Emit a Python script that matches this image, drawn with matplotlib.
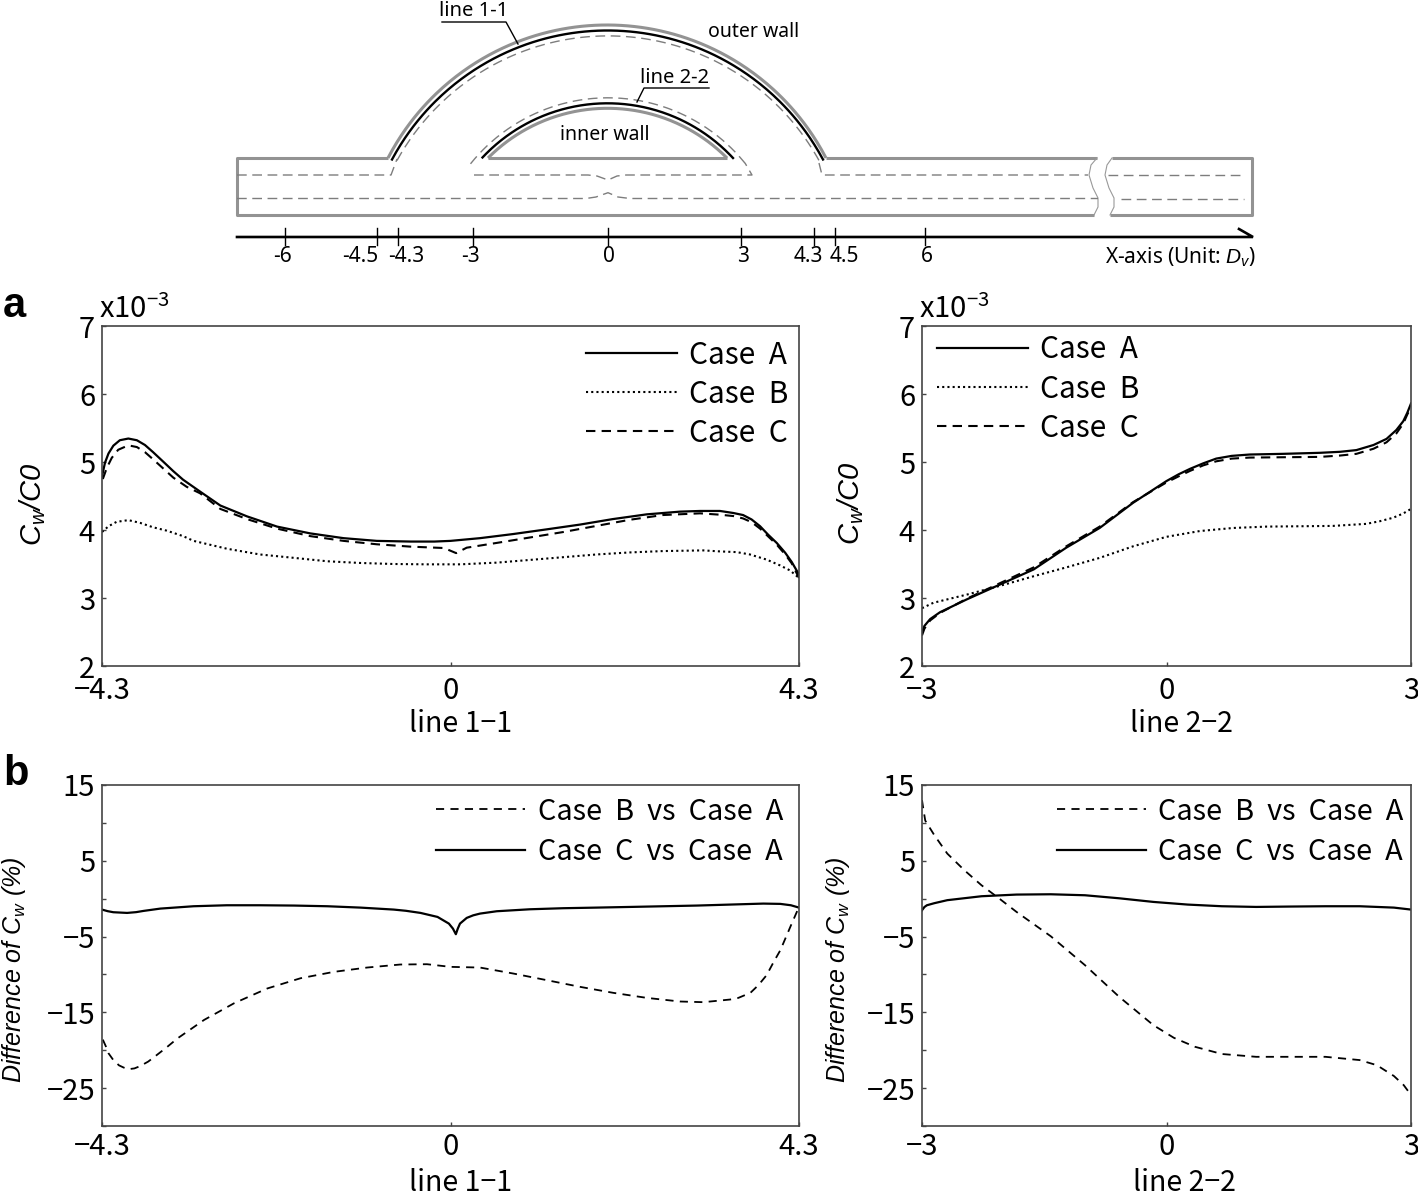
import numpy as np
import matplotlib
matplotlib.use('Agg')
import matplotlib.pyplot as plt

plt.rcParams['font.family'] = ['Noto Sans CJK JP', 'DejaVu Sans']
plt.rcParams['mathtext.fontset'] = 'custom'
plt.rcParams['mathtext.rm'] = 'Noto Sans CJK JP'
plt.rcParams['mathtext.it'] = 'Liberation Sans:italic'
plt.rcParams['mathtext.sf'] = 'Liberation Sans:italic'
plt.rcParams['axes.unicode_minus'] = True

W, H = 1418, 1197

# panel a, line 1-1
a1_xa = [-4.3, -4.263, -4.22, -4.16, -4.08, -3.975, -3.87, -3.77, -3.67, -3.54, -3.42, -3.3, -3.09, -2.84, -2.51,
         -2.14, -1.73, -1.32, -0.91, -0.49, -0.2, 0, 0.364, 0.77, 1.19, 1.6, 2.0, 2.42, 2.83, 3.08, 3.325, 3.49,
         3.61, 3.715, 3.82, 3.92, 4.025, 4.13, 4.21, 4.3]
a1_ya = [4.79, 4.99, 5.125, 5.24, 5.32, 5.345, 5.32, 5.25, 5.145, 5.0, 4.865, 4.74, 4.565, 4.36, 4.2,
         4.05, 3.95, 3.88, 3.84, 3.83, 3.83, 3.84, 3.88, 3.94, 4.01, 4.08, 4.16, 4.23, 4.27, 4.28, 4.28, 4.25,
         4.22, 4.155, 4.055, 3.93, 3.81, 3.665, 3.53, 3.345]
a1_xb = [-4.3, -4.22, -4.12, -3.975, -3.83, -3.67, -3.5, -3.3, -3.17, -2.76, -2.35, -1.93, -1.52, -1.11, -0.7, -0.29,
         0.12, 0.57, 0.98, 1.39, 1.8, 2.21, 2.62, 3.12, 3.325, 3.53, 3.695, 3.9, 4.065, 4.19, 4.3]
a1_yb = [3.97, 4.055, 4.12, 4.145, 4.105, 4.04, 3.99, 3.91, 3.84, 3.725, 3.64, 3.59, 3.54, 3.515, 3.5, 3.495,
         3.495, 3.52, 3.56, 3.6, 3.64, 3.67, 3.69, 3.7, 3.685, 3.675, 3.64, 3.565, 3.48, 3.405, 3.295]
a1_xc = [-4.29, -4.24, -4.18, -4.1, -3.975, -3.87, -3.77, -3.67, -3.54, -3.42, -3.255, -3.09, -2.84, -2.51, -2.14,
         -1.73, -1.32, -0.91, -0.49, -0.08, 0.07, 0.2, 0.57, 0.98, 1.39, 1.8, 2.21, 2.62, 3.08, 3.325, 3.49, 3.61,
         3.715, 3.82, 3.92, 4.025, 4.13, 4.21, 4.3]
a1_yc = [4.75, 4.915, 5.06, 5.18, 5.245, 5.22, 5.145, 5.04, 4.9, 4.77, 4.635, 4.54, 4.31, 4.16, 4.02,
         3.91, 3.84, 3.79, 3.755, 3.735, 3.66, 3.74, 3.81, 3.89, 3.97, 4.06, 4.15, 4.22, 4.245, 4.225, 4.205, 4.17,
         4.115, 4.02, 3.905, 3.785, 3.64, 3.51, 3.295]

# panel a, line 2-2
a2_x = [-3, -2.97, -2.9, -2.78, -2.45, -2.04, -1.63, -1.23, -0.82, -0.41, 0, 0.15, 0.29, 0.45, 0.61, 0.8, 1.02,
        1.43, 1.88, 2.13, 2.33, 2.54, 2.7, 2.82, 2.905, 2.955, 3]
a2_ya = [2.49, 2.59, 2.69, 2.79, 2.98, 3.2, 3.42, 3.74, 4.03, 4.4, 4.72, 4.82, 4.9, 4.98, 5.05, 5.09, 5.11,
         5.12, 5.135, 5.15, 5.175, 5.25, 5.34, 5.47, 5.6, 5.725, 5.86]
a2_yc = [2.45, 2.55, 2.67, 2.78, 2.99, 3.22, 3.45, 3.76, 4.05, 4.41, 4.7, 4.79, 4.87, 4.95, 5.01, 5.05, 5.065,
         5.07, 5.075, 5.095, 5.12, 5.195, 5.29, 5.42, 5.565, 5.7, 5.8]
a2_xb = [-3, -2.86, -2.45, -2.04, -1.63, -1.23, -0.82, -0.41, 0, 0.41, 0.82, 1.23, 1.63, 2.04, 2.45, 2.62, 2.78,
         2.9, 3]
a2_yb = [2.85, 2.93, 3.05, 3.18, 3.32, 3.45, 3.59, 3.76, 3.9, 3.985, 4.03, 4.05, 4.055, 4.06, 4.09, 4.13, 4.18,
         4.24, 4.31]

# panel b, line 1-1
b1_xb = [-4.29, -4.25, -4.22, -4.16, -4.09, -4.03, -3.97, -3.9, -3.83, -3.73, -3.62, -3.5, -3.37, -3.04, -2.67, -2.26,
         -1.85, -1.44, -1.03, -0.62, -0.29, 0, 0.364, 0.775, 1.19, 1.6, 2.01, 2.42, 2.83, 3.12, 3.45, 3.55, 3.7, 3.8,
         3.9, 3.99, 4.07, 4.14, 4.21, 4.3]
b1_yb = [-18.6, -19.55, -20.4, -21.3, -22.0, -22.3, -22.5, -22.4, -22.1, -21.5, -20.6, -19.6, -18.45, -16.0, -13.8,
         -11.85, -10.5, -9.66, -9.09, -8.69, -8.65, -9.0, -9.09, -9.88, -10.76, -11.64, -12.43, -13.09, -13.57, -13.66,
         -13.31, -13.1, -12.43, -11.4, -10.1, -8.3, -6.8, -5.05, -3.29, -1.09]
b1_xc = [-4.3, -4.23, -4.16, -3.99, -3.88, -3.79, -3.58, -3.17, -2.76, -2.35, -1.93, -1.52, -1.11, -0.7, -0.55, -0.37,
         -0.16, -0.02, 0.03, 0.066, 0.09, 0.117, 0.2, 0.28, 0.364, 0.57, 0.98, 1.39, 1.8, 2.22, 2.63, 3.04, 3.45,
         3.86, 4.07, 4.2, 4.3]
b1_yc = [-1.44, -1.65, -1.79, -1.88, -1.78, -1.62, -1.31, -1.0, -0.87, -0.87, -0.91, -1.0, -1.18, -1.44, -1.6, -1.88,
         -2.41, -3.29, -3.95, -4.69, -3.95, -3.29, -2.54, -2.2, -1.97, -1.66, -1.4, -1.26, -1.18, -1.09, -1.0, -0.91,
         -0.78, -0.65, -0.69, -0.87, -1.18]

# panel b, line 2-2
b2_xb = [-3, -2.98, -2.96, -2.85, -2.69, -2.48, -2.27, -2.05, -1.84, -1.42, -1.0, -0.58, -0.16, 0.09, 0.35, 0.68, 1.1,
         1.52, 1.95, 2.37, 2.58, 2.79, 2.91, 3]
b2_yb = [13, 11.6, 10.3, 8.4, 5.95, 3.75, 1.77, 0, -1.75, -4.96, -8.78, -12.96, -16.7, -18.36, -19.55, -20.5, -20.87,
         -20.87, -20.87, -21.3, -21.97, -23.4, -24.6, -25.9]
b2_xc = [-3, -2.97, -2.94, -2.85, -2.69, -2.27, -1.84, -1.42, -1.0, -0.58, -0.16, 0.26, 0.68, 1.1, 1.52, 1.95, 2.37,
         2.79, 3]
b2_yc = [-1.53, -1.1, -0.87, -0.6, -0.2, 0.32, 0.54, 0.58, 0.45, 0.05, -0.43, -0.78, -1.0, -1.09, -1.04, -1.0, -1.0,
         -1.18, -1.44]

# schematic
axis_ticks = [-6, -4.5, -4.3, -3, 0, 3, 4.3, 4.5, 6]
axis_tick_px = [285, 377, 398, 473, 608, 741, 814, 835, 925]
axis_label_px = [283, 360, 406, 470, 609, 743, 808, 844, 927]

GRAY = '#939393'
DGRAY = '#7d7d7d'
FRAME = '#444444'
TFONT = 'Noto Sans'


def box(l, t, r, b):
    return [l / W, 1 - b / H, (r - l) / W, (b - t) / H]


def arc(ax, cx, cy, R, x0, x1, **kw):
    xs = np.linspace(x0, x1, 200)
    ys = cy - np.sqrt(R ** 2 - (xs - cx) ** 2)
    ax.plot(xs, ys, **kw)


def setup(ax, xt, xl, yt, ylim, xlabel, label_x, label_y, xpad, labelled=None):
    ax.set_xlim(xt[0], xt[-1])
    ax.set_ylim(*ylim)
    ax.set_xticks(xt)
    ax.set_xticklabels(xl)
    ax.set_yticks(yt)
    if labelled is not None:
        ax.set_yticklabels([str(v).replace('-', '\u2212') if v in labelled else '' for v in yt])
    ax.tick_params(direction='in', length=3, width=1, color=FRAME, labelsize=21, pad=5)
    ax.tick_params(axis='x', pad=xpad)
    for s in ax.spines.values():
        s.set_color(FRAME)
        s.set_linewidth(1.2)
    ax.set_xlabel(xlabel, fontsize=20.5, va='center')
    pos = ax.get_position()
    ax.xaxis.set_label_coords((label_x / W - pos.x0) / pos.width, ((1 - label_y / H) - pos.y0) / pos.height)
    ax.patch.set_alpha(0)


fig = plt.figure(figsize=(W / 100, H / 100), dpi=100)
bg = fig.add_axes([0, 0, 1, 1])
bg.set_xlim(0, W)
bg.set_ylim(H, 0)
bg.axis('off')

# tube walls
wall = dict(color=GRAY, lw=2.2, solid_capstyle='butt')
bg.plot([388, 237, 237, 1094], [158, 158, 215, 215], **wall)
bg.plot([826, 1097], [158, 158], **wall)
bg.plot([1112, 1252, 1252, 1110], [158, 158, 215, 215], **wall)
arc(bg, 607, 271.8, 246.8, 388, 826, **wall)
bg.plot([488, 727], [158, 158], **wall)
arc(bg, 607.5, 276.8, 168.5, 488, 727, **wall)

# break in the tube
bg.plot([1097, 1091, 1089, 1093, 1098, 1098, 1094], [158, 165, 175, 188, 198, 207, 215], color='#999999', lw=0.8)
bg.plot([1112, 1107, 1105, 1109, 1114, 1114, 1110], [158, 165, 175, 188, 198, 207, 215], color='#999999', lw=0.8)

# black measurement lines
arc(bg, 607.5, 275, 244.5, 392, 823, color='black', lw=1.7)
arc(bg, 607.5, 274.6, 171.3, 482.5, 733, color='black', lw=1.7)

# dashed centre lines
dash = dict(color=DGRAY, lw=1.0, dashes=(7, 4))
arc(bg, 608, 276.9, 241, 397, 819, **dash)
arc(bg, 608, 274, 176.2, 470.5, 745, **dash)
bg.plot([237, 388, 391, 397], [175, 175, 175, 159], **dash)
bg.plot([819, 822, 825, 1088], [163, 175, 175, 175], **dash)
bg.plot([1108, 1245], [175, 175], **dash)
bg.plot([474, 588, 597, 608, 617, 626, 745, 752, 745], [175, 175, 176, 180, 176, 175, 175, 175, 163], **dash)
bg.plot([237, 586, 596, 608, 618, 630, 1098], [198.5, 198.5, 197, 192.7, 197, 198.5, 198.5], **dash)
bg.plot([1121, 1244], [198.5, 198.5], **dash)

# x axis of the schematic
bg.plot([237, 1253, 1239], [237, 237, 229], color='black', lw=1.9, solid_joinstyle='miter')
for t, px, lx in zip(axis_ticks, axis_tick_px, axis_label_px):
    bg.plot([px, px], [228, 245], color='black', lw=1)
    bg.text(lx, 257, str(t), ha='center', va='center', fontsize=15, family=TFONT)
bg.text(1180, 257, 'X-axis (Unit: $D_v$)', ha='center', va='center', fontsize=15, family=TFONT)

# wall labels
bg.text(474, 11, 'line 1-1', ha='center', va='center', fontsize=14.5, family=TFONT)
bg.plot([442, 506, 518], [22, 22, 44], color='black', lw=1)
bg.text(675, 78, 'line 2-2', ha='center', va='center', fontsize=14.5, family=TFONT)
bg.plot([709, 644, 637], [88, 88, 102], color='black', lw=1)
bg.text(754, 32, 'outer wall', ha='center', va='center', fontsize=14, family=TFONT)
bg.text(605, 135, 'inner wall', ha='center', va='center', fontsize=14, family=TFONT)

# panel letters
bg.text(3, 317, 'a', fontsize=30, fontweight='bold', family='Liberation Sans', va='baseline')
bg.text(3, 785, 'b', fontsize=30, fontweight='bold', family='Liberation Sans', va='baseline')

# y labels and scale notes
ylab = r'$\mathsf{C_w/C0}$'
dlab = r'Difference of $\mathsf{C_w}$ (%)'
bg.text(33, 504, ylab, rotation=90, ha='center', va='center', fontsize=21)
bg.text(851, 503, ylab, rotation=90, ha='center', va='center', fontsize=21)
bg.text(14, 970, dlab, rotation=90, ha='center', va='center', fontsize=18, family='Liberation Sans', style='italic')
bg.text(838, 970, dlab, rotation=90, ha='center', va='center', fontsize=18, family='Liberation Sans', style='italic')
bg.text(99, 318, 'x10$^{-3}$', fontsize=21, va='baseline')
bg.text(919, 318, 'x10$^{-3}$', fontsize=21, va='baseline')

solid = dict(color='black', lw=1.6)
dashed = dict(color='black', lw=1.5, dashes=(4.5, 3))
dotted = dict(color='black', lw=1.5, dashes=(1, 1.5))
thin_dash = dict(color='black', lw=1.3, dashes=(4.5, 3.5))

leg_kw = dict(frameon=False, fontsize=21.5, handlelength=3.05, handletextpad=0.42, labelspacing=0.27,
              borderpad=0, borderaxespad=0)
leg_b_kw = dict(leg_kw, fontsize=20.8, handlelength=3.1, labelspacing=0.36)
CASE_A, CASE_B, CASE_C = 'Case  A', 'Case  B', 'Case  C'
B_VS_A, C_VS_A = 'Case  B  vs  Case  A', 'Case  C  vs  Case  A'
D_TICKS = [15, 10, 5, 0, -5, -10, -15, -20, -25, -30]
D_LABELLED = [15, 5, -5, -15, -25]

# panel a left
ax = fig.add_axes(box(102, 326, 799, 666))
ax.plot(a1_xa, a1_ya, label=CASE_A, **solid)
ax.plot(a1_xb, a1_yb, label=CASE_B, **dotted)
ax.plot(a1_xc, a1_yc, label=CASE_C, **dashed)
setup(ax, [-4.3, 0, 4.3], ['\u22124.3', '0', '4.3'], [2, 3, 4, 5, 6, 7], (2, 7), 'line 1\u22121', 461, 724, 7)
ax.legend(loc='upper right', bbox_to_anchor=(0.985, 0.96), **leg_kw)

# panel a right
ax = fig.add_axes(box(922, 326, 1411, 666))
ax.plot(a2_x, a2_ya, label=CASE_A, **solid)
ax.plot(a2_xb, a2_yb, label=CASE_B, **dotted)
ax.plot(a2_x, a2_yc, label=CASE_C, **dashed)
setup(ax, [-3, 0, 3], ['\u22123', '0', '3'], [2, 3, 4, 5, 6, 7], (2, 7), 'line 2\u22122', 1181, 724, 7)
ax.legend(loc='upper left', bbox_to_anchor=(0.03, 0.975), **leg_kw)

# panel b left
ax = fig.add_axes(box(102, 785, 799, 1126))
ax.plot(b1_xb, b1_yb, label=B_VS_A, **thin_dash)
ax.plot(b1_xc, b1_yc, label=C_VS_A, **solid)
setup(ax, [-4.3, 0, 4.3], ['\u22124.3', '0', '4.3'], D_TICKS, (-30, 15), 'line 1\u22121', 461, 1183, 4, D_LABELLED)
ax.legend(loc='upper right', bbox_to_anchor=(0.977, 0.966), **leg_b_kw)

# panel b right
ax = fig.add_axes(box(922, 785, 1411, 1126))
ax.plot(b2_xb, b2_yb, label=B_VS_A, **thin_dash)
ax.plot(b2_xc, b2_yc, label=C_VS_A, **solid)
setup(ax, [-3, 0, 3], ['\u22123', '0', '3'], D_TICKS, (-30, 15), 'line 2\u22122', 1184, 1183, 4, D_LABELLED)
ax.legend(loc='upper right', bbox_to_anchor=(0.985, 0.966), **leg_b_kw)

fig.savefig('out.png', dpi=100)
